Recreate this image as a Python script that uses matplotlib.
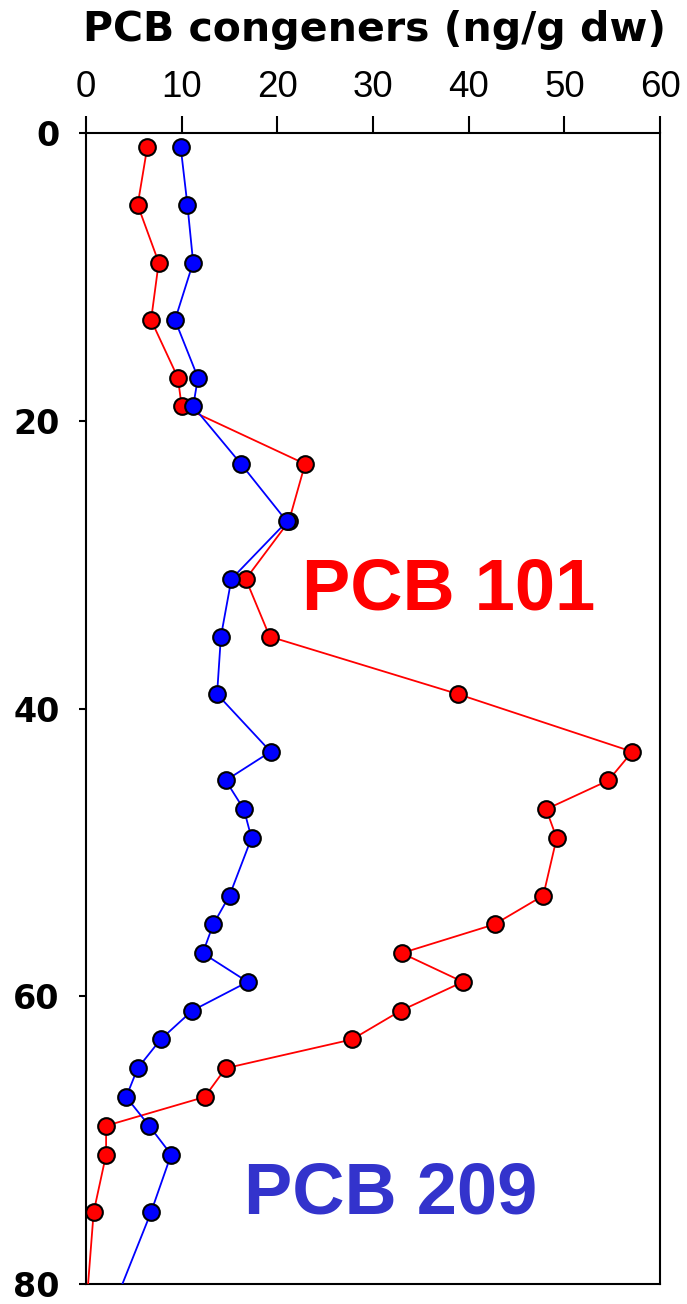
import numpy as np
import matplotlib.pyplot as plt

# depth (cm) and concentrations (ng/g dw)
depth = [1, 5, 9, 13, 17, 19, 23, 27, 31, 35, 39, 43, 45, 47, 49, 53, 55, 57,
         59, 61, 63, 65, 67, 69, 71, 75, 81]
pcb101 = [6.4, 5.4, 7.6, 6.8, 9.6, 10.0, 22.9, 21.2, 16.7, 19.2, 38.9, 57.1,
          54.6, 48.1, 49.2, 47.8, 42.7, 33.0, 39.4, 32.9, 27.8, 14.6, 12.4,
          2.1, 2.1, 0.8, 0.1]
pcb209 = [9.9, 10.6, 11.2, 9.3, 11.7, 11.2, 16.2, 21.0, 15.2, 14.1, 13.7, 19.3,
          14.6, 16.5, 17.3, 15.0, 13.3, 12.2, 16.9, 11.1, 7.8, 5.4, 4.2, 6.6,
          8.9, 6.8, 3.2]

xticks = [0, 10, 20, 30, 40, 50, 60]
yticks = [0, 20, 40, 60, 80]

fig = plt.figure(figsize=(6.87, 13.04), dpi=100)
ax = fig.add_axes([0.1252, 0.0153, 0.8355, 0.8827])

ax.plot(pcb101, depth, color='red', lw=1.3, marker='o', ms=12,
        mfc='red', mec='black', mew=1.5, zorder=3)
ax.plot(pcb209, depth, color='blue', lw=1.3, marker='o', ms=12,
        mfc='blue', mec='black', mew=1.5, zorder=3)

ax.set_xlim(0, 60)
ax.set_ylim(80, 0)
ax.xaxis.tick_top()
ax.set_xticks(xticks)
ax.set_yticks(yticks)
ax.set_xticklabels([str(v) for v in xticks], family='Liberation Sans', fontsize=26.5)
ax.set_yticklabels([str(v) for v in yticks], fontweight='bold', fontsize=24,
                   family='DejaVu Sans')
ax.tick_params(axis='x', direction='out', length=12, width=1.5, pad=8)
ax.tick_params(axis='y', direction='out', length=5, width=1.5, pad=14)
for s in ax.spines.values():
    s.set_linewidth(1.5)

ax.text(37.9, 31.8, 'PCB 101', color='red', fontsize=52, fontweight='bold',
        ha='center', va='center', family='Liberation Sans')
ax.text(31.8, 73.8, 'PCB 209', color='#3333cc', fontsize=52, fontweight='bold',
        ha='center', va='center', family='Liberation Sans')

fig.text(0.545, 0.977, 'PCB congeners (ng/g dw)', ha='center', va='center',
         fontsize=29.5, fontweight='bold', family='DejaVu Sans')

fig.savefig('out.png', dpi=100)
